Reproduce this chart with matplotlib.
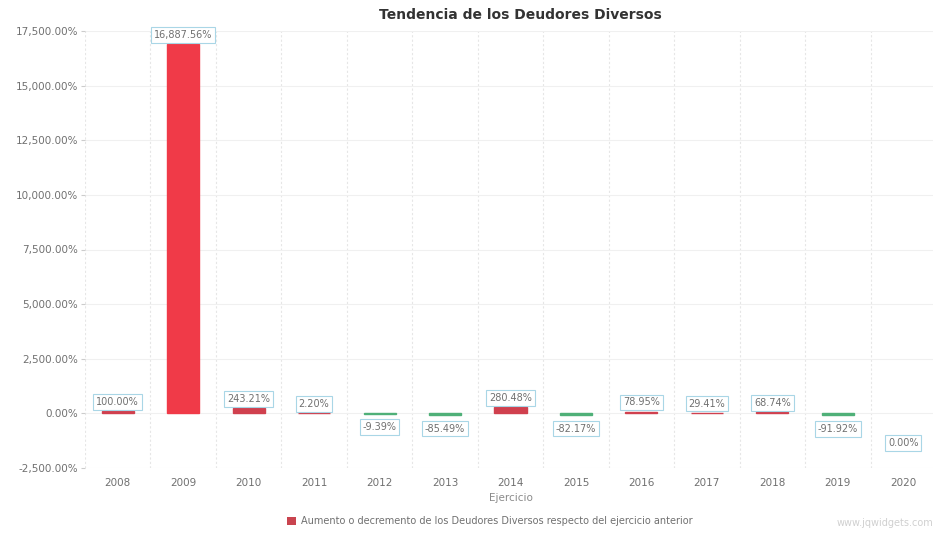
import matplotlib
matplotlib.use("Agg")
import matplotlib.pyplot as plt
from matplotlib.patches import Patch
from matplotlib.ticker import FuncFormatter, MultipleLocator

years = ["2008", "2009", "2010", "2011", "2012", "2013", "2014",
         "2015", "2016", "2017", "2018", "2019", "2020"]
values = [100.00, 16887.56, 243.21, 2.20, -9.39, -85.49, 280.48,
          -82.17, 78.95, 29.41, 68.74, -91.92, 0.00]

title = "Tendencia de los Deudores Diversos"
xlabel = "Ejercicio"
legend_label = "Aumento o decremento de los Deudores Diversos respecto del ejercicio anterior"

plt.rcParams['font.family'] = ['DejaVu Sans']
txt_gray = "#707070"

fig = plt.figure(figsize=(9.33, 5.37), dpi=100)
ax = fig.add_axes([85 / 933, 1 - 468 / 537, 851 / 933, (468 - 31) / 537])

x = list(range(len(years)))
colors = []
for v in values:
    if v >= 0:
        colors.append("#d0404e")
    else:
        colors.append("#4fb078")
colors[1] = "#f03a48"
# thin edge in the same colour so tiny changes still show as a line (not for 0)
widths = [0.0 if v == 0 else 1.0 for v in values]

ax.bar(x, values, width=0.49, color=colors, edgecolor=colors, linewidth=widths, zorder=3)

for i, v in enumerate(values):
    label = f"{v:,.2f}%"
    if v > 0:
        off, va = 3, "bottom"
    elif v < 0:
        off, va = -6, "top"
    else:
        off, va = -18, "top"
    ax.annotate(label, (i, v), xytext=(0, off), textcoords="offset points",
                ha="center", va=va, fontsize=7, color=txt_gray, zorder=5,
                bbox=dict(boxstyle="square,pad=0.3", facecolor="white",
                          edgecolor="#a9d6e6", linewidth=0.8))

ax.set_xlim(-0.5, len(years) - 0.5)
ax.set_ylim(-2500, 17500)
ax.yaxis.set_major_locator(MultipleLocator(2500))
ax.yaxis.set_major_formatter(FuncFormatter(lambda v, p: f"{v:,.2f}%"))
ax.set_xticks(x)
ax.set_xticklabels(years)

for b in range(len(years) + 1):
    ax.axvline(b - 0.5, color="#e6e6e6", linewidth=0.8, linestyle=(0, (2, 2)), zorder=1)
ax.grid(axis="y", color="#f0f0f0", linewidth=0.8, zorder=1)

for s in ax.spines.values():
    s.set_visible(False)
ax.tick_params(axis="y", length=3, color="#cccccc", labelsize=7.5, labelcolor=txt_gray, pad=2)
ax.tick_params(axis="x", length=0, labelsize=7.5, labelcolor=txt_gray, pad=7)

ax.set_xlabel(xlabel, fontsize=7.5, color="#8a8a8a", labelpad=4)

fig.text(520 / 933, 1 - 15 / 537, title, ha="center", va="center",
         fontsize=10, fontweight="bold", color="#333333")

fig.legend(handles=[Patch(facecolor="#c9444f", edgecolor="none", label=legend_label)],
           loc="center", bbox_to_anchor=(490 / 933, 1 - 521 / 537), frameon=False,
           fontsize=7, labelcolor=txt_gray, handlelength=0.9, handleheight=0.9,
           handletextpad=0.6)

fig.text(1.0, 1 - 523 / 537, "www.jqwidgets.com", ha="right", va="center",
         fontsize=7, color="#d0d0d0")

fig.savefig("out.png", dpi=100)
